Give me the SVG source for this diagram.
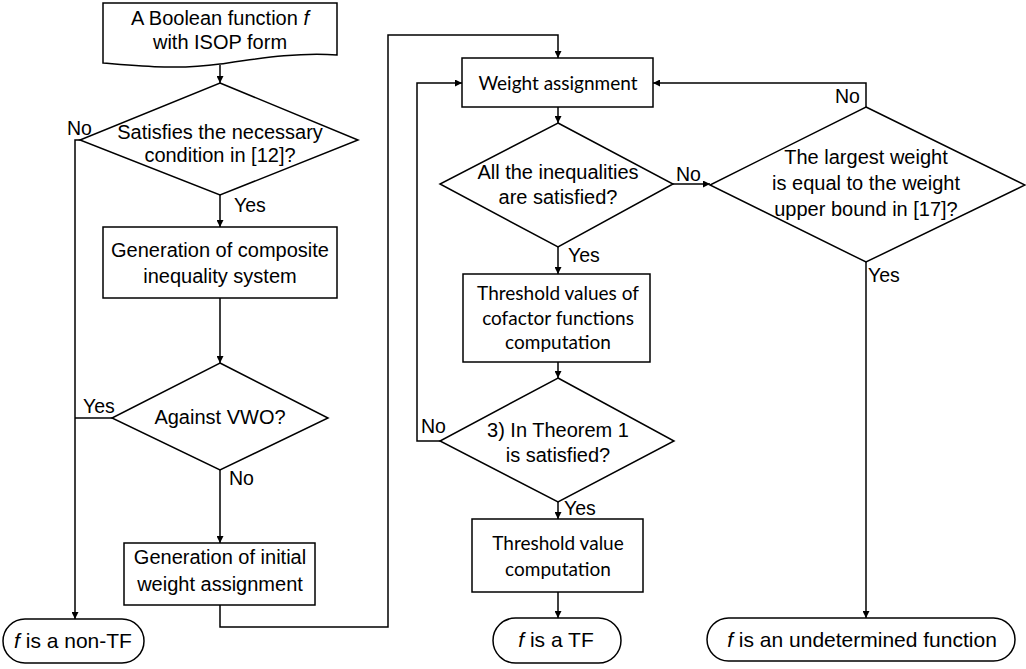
<svg xmlns="http://www.w3.org/2000/svg" width="1026" height="669" viewBox="0 0 1026 669">
<style>
.s{fill:#fff;stroke:#000;stroke-width:1.5}
.c{fill:none;stroke:#000;stroke-width:1.5}
.t{font-family:"Liberation Sans",Arial,sans-serif;font-size:20px;fill:#000;text-anchor:middle}
.e{font-size:21px}
.k{font-family:Lato,"Open Sans",sans-serif;font-size:19px;fill:#000;text-anchor:middle}
.l{font-family:"Liberation Sans",Arial,sans-serif;font-size:19.5px;fill:#000}
</style>
<defs>
<marker id="a" viewBox="0 0 10 10" refX="10" refY="5" markerWidth="7" markerHeight="7" markerUnits="userSpaceOnUse" orient="auto">
<path d="M0,0 L10,5 L0,10 Z" fill="#000"/>
</marker>
</defs>
<rect width="1026" height="669" fill="#fff"/>
<g id="connectors">
<path class="c" d="M220,65 V83" marker-end="url(#a)"/>
<path class="c" d="M80,140 H75 V619" marker-end="url(#a)"/>
<path class="c" d="M220,195 V227" marker-end="url(#a)"/>
<path class="c" d="M220,298 V363" marker-end="url(#a)"/>
<path class="c" d="M112,418 H75"/>
<path class="c" d="M220,470 V543" marker-end="url(#a)"/>
<path class="c" d="M220,605 V627 H388 V35 H558 V58" marker-end="url(#a)"/>
<path class="c" d="M558,107 V123" marker-end="url(#a)"/>
<path class="c" d="M673,184 H710" marker-end="url(#a)"/>
<path class="c" d="M866,107 V83 H653" marker-end="url(#a)"/>
<path class="c" d="M558,247 V274" marker-end="url(#a)"/>
<path class="c" d="M866,262 V618" marker-end="url(#a)"/>
<path class="c" d="M558,362 V378" marker-end="url(#a)"/>
<path class="c" d="M440,441 H417 V83 H462" marker-end="url(#a)"/>
<path class="c" d="M558,502 V519" marker-end="url(#a)"/>
<path class="c" d="M558,592 V618" marker-end="url(#a)"/>
</g>
<g id="start">
<path class="s" d="M103,3 H337 V55 C300,52 262,58 220,64 C178,70 140,66 103,63 Z"/>
<text class="t" x="220" y="25">A Boolean function <tspan font-style="italic">f</tspan></text>
<text class="t" x="220" y="49">with ISOP form</text>
</g>
<g id="necessary">
<path class="s" d="M220,83 L358,140 L220,195 L80,140 Z"/>
<text class="t" x="220" y="139">Satisfies the necessary</text>
<text class="t" x="220" y="162">condition in [12]?</text>
<text class="l" x="67" y="135">No</text>
<text class="l" x="234" y="212">Yes</text>
</g>
<g id="composite">
<rect class="s" x="103" y="227" width="234" height="71"/>
<text class="t" x="220" y="257">Generation of composite</text>
<text class="t" x="220" y="283">inequality system</text>
</g>
<g id="vwo">
<path class="s" d="M220,363 L328,418 L220,470 L112,418 Z"/>
<text class="t" x="220" y="424">Against VWO?</text>
<text class="l" x="83" y="413">Yes</text>
<text class="l" x="229" y="485">No</text>
</g>
<g id="initial">
<rect class="s" x="124" y="543" width="191" height="62"/>
<text class="t" x="220" y="564">Generation of initial</text>
<text class="t" x="220" y="591">weight assignment</text>
</g>
<g id="nontf">
<rect class="s" x="3" y="619" width="141" height="44" rx="22" ry="22"/>
<text class="t e" x="73" y="648"><tspan font-style="italic">f</tspan> is a non-TF</text>
</g>
<g id="weight">
<rect class="s" x="462" y="58" width="191" height="49"/>
<text class="k" x="558" y="90">Weight assignment</text>
</g>
<g id="inequalities">
<path class="s" d="M558,123 L673,184 L558,247 L440,184 Z"/>
<text class="t" x="558" y="179">All the inequalities</text>
<text class="t" x="558" y="204">are satisfied?</text>
<text class="l" x="676" y="181">No</text>
<text class="l" x="568" y="262">Yes</text>
</g>
<g id="largest">
<path class="s" d="M866,107 L1025,185 L866,262 L710,185 Z"/>
<text class="t" x="866" y="164">The largest weight</text>
<text class="t" x="866" y="190">is equal to the weight</text>
<text class="t" x="866" y="216">upper bound in [17]?</text>
<text class="l" x="835" y="103">No</text>
<text class="l" x="868" y="282">Yes</text>
</g>
<g id="cofactor">
<rect class="s" x="463" y="274" width="187" height="88"/>
<text class="k" x="558" y="300">Threshold values of</text>
<text class="k" x="558" y="325">cofactor functions</text>
<text class="k" x="558" y="349">computation</text>
</g>
<g id="theorem">
<path class="s" d="M558,378 L674,441 L558,502 L440,441 Z"/>
<text class="t" x="558" y="437">3) In Theorem 1</text>
<text class="t" x="558" y="462">is satisfied?</text>
<text class="l" x="421" y="433">No</text>
<text class="l" x="564" y="515">Yes</text>
</g>
<g id="threshold">
<rect class="s" x="472" y="519" width="171" height="73"/>
<text class="k" x="558" y="550">Threshold value</text>
<text class="k" x="558" y="576">computation</text>
</g>
<g id="tf">
<rect class="s" x="493" y="618" width="128" height="45" rx="22.5" ry="22.5"/>
<text class="t e" x="556" y="647"><tspan font-style="italic">f</tspan> is a TF</text>
</g>
<g id="undetermined">
<rect class="s" x="707" y="618" width="308" height="43" rx="21.5" ry="21.5"/>
<text class="t e" x="862" y="647"><tspan font-style="italic">f</tspan> is an undetermined function</text>
</g>
</svg>
